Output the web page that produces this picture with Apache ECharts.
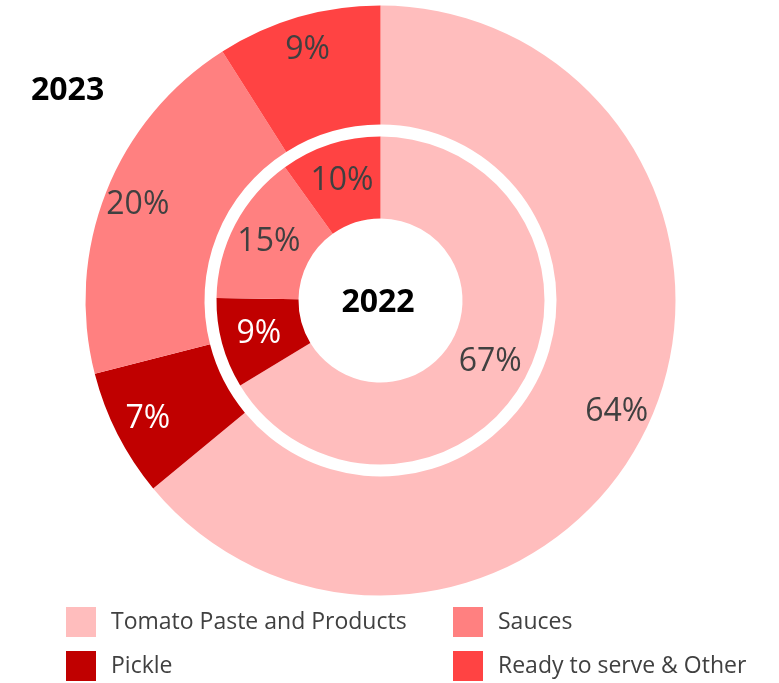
<!DOCTYPE html>
<html>
<head>
<meta charset="utf-8">
<script src="https://cdn.jsdelivr.net/npm/echarts@6/dist/echarts.min.js"></script>
<style>
  html, body { margin: 0; padding: 0; background: #ffffff; }
  #chart { width: 779px; height: 683px; }
</style>
</head>
<body>
<div id="chart"></div>
<script>
// Product mix by category, share of sales (%)
const categories = ['Tomato Paste and Products', 'Pickle', 'Sauces', 'Ready to serve & Other'];
const share2023 = [64, 7, 20, 9];
const share2022 = [67, 9, 15, 10];
const colors = ['#FFBDBD', '#C00000', '#FF8080', '#FF4343'];
const labelColors = ['#404040', '#ffffff', '#404040', '#404040'];

const FONT = 'Open Sans';
const center = [380.5, 300.5];

function toData(values, withColor) {
  return categories.map((name, i) => ({
    name,
    value: values[i],
    itemStyle: { color: withColor ? colors[i] : 'rgba(0,0,0,0)' },
    label: { color: labelColors[i] }
  }));
}

const labelStyle = {
  show: true,
  position: 'inside',
  formatter: '{c}%',
  fontFamily: FONT,
  fontSize: 32
};

// one legend entry per slot: two columns, two rows
const legendSlots = [
  { name: 'Tomato Paste and Products', left: 66, top: 607 },
  { name: 'Sauces', left: 453, top: 607 },
  { name: 'Pickle', left: 66, top: 651 },
  { name: 'Ready to serve & Other', left: 453, top: 651 }
];

const chart = echarts.init(document.getElementById('chart'), null, { renderer: 'canvas' });
chart.setOption({
  animation: false,
  backgroundColor: '#ffffff',
  title: [
    {
      text: '2022', left: 378, top: 303, padding: 0,
      textAlign: 'center', textVerticalAlign: 'middle',
      textStyle: { fontFamily: FONT, fontWeight: 'bold', fontSize: 32, color: '#000000' }
    },
    {
      text: '2023', left: 31, top: 75, padding: 0,
      textStyle: { fontFamily: FONT, fontWeight: 'bold', fontSize: 32, color: '#000000' }
    }
  ],
  legend: legendSlots.map(s => ({
    data: [s.name],
    left: s.left, top: s.top, padding: 0,
    itemWidth: 30, itemHeight: 30,
    icon: 'rect',
    selectedMode: false,
    textStyle: { fontFamily: FONT, fontSize: 23, color: '#404040', padding: [2, 0, 0, 10] }
  })),
  series: [
    {
      name: '2023',
      type: 'pie',
      center, radius: [176, 295],
      startAngle: 90, clockwise: true,
      silent: true,
      label: { show: false },
      labelLine: { show: false },
      itemStyle: { borderWidth: 0 },
      data: toData(share2023, true)
    },
    {
      name: '2022',
      type: 'pie',
      center, radius: [82, 164],
      startAngle: 90, clockwise: true,
      silent: true,
      label: labelStyle,
      labelLine: { show: false },
      itemStyle: { borderWidth: 0 },
      data: toData(share2022, true)
    },
    {
      // label carrier for the outer ring, placed toward its outer edge
      name: '2023 labels',
      type: 'pie',
      center, radius: [221, 295],
      startAngle: 90, clockwise: true,
      silent: true,
      label: labelStyle,
      labelLine: { show: false },
      itemStyle: { borderWidth: 0 },
      data: toData(share2023, false)
    }
  ]
});
</script>
</body>
</html>
